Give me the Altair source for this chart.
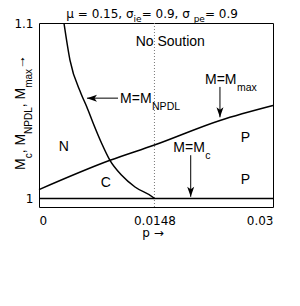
import altair as alt
import pandas as pd

# ---- data ----
p_npdl = [0.00320, 0.00397, 0.00538, 0.00612, 0.00696, 0.00804, 0.00910, 0.01060, 0.01231, 0.01465, 0.01480]
m_npdl = [1.1000, 1.0789, 1.0599, 1.0523, 1.0428, 1.0314, 1.0218, 1.0133, 1.0066, 1.0006, 1.0000]

p_max = [0.0, 0.0091, 0.0148, 0.0232, 0.0300]
m_max = [1.0051, 1.0218, 1.0305, 1.0445, 1.0530]

p_mc = [0.0, 0.03]
m_mc = [1.0, 1.0]

p_star = [0.0148]

x_ticks = [0, 0.0148, 0.03]
y_ticks = [1, 1.1]
x_domain = [0, 0.03]
y_domain = [0.9952, 1.1]

region_text = ["No Soution", "N", "C", "P", "P"]
region_p = [0.01683, 0.00318, 0.00856, 0.02645, 0.02645]
region_m = [1.0869, 1.0271, 1.0066, 1.0323, 1.0082]

ann_main = ["M=M", "M=M", "M=M"]
ann_sub = ["NPDL", "max", "c"]
ann_p = [0.01039, 0.02128, 0.01722]
ann_m = [1.0546, 1.0651, 1.0265]

# arrows: shaft start -> tip
arr_p1 = [0.01013, 0.02320, 0.01945]
arr_m1 = [1.0572, 1.0636, 1.0247]
arr_p2 = [0.00615, 0.02320, 0.01945]
arr_m2 = [1.0572, 1.0463, 1.0010]
arr_dir = ["left", "down", "down"]

title_parts = ["μ = 0.15, σ", "ie", " = 0.9, σ", "pe", " = 0.9"]
title_sub = [False, True, False, True, False]
ytitle_parts = ["M", "c", ", M", "NPDL", ", M", "max", " →"]
ytitle_sub = [False, True, False, True, False, True, False]

W, H = 234, 184

ARIAL = {' ': 278, ',': 278, '.': 278, '=': 584, 'M': 833, 'N': 722, 'P': 667, 'D': 722,
         'L': 556, 'm': 833, 'a': 556, 'x': 500, 'c': 500, '→': 1000}
DEJAVU = {' ': 318, ',': 318, '.': 318, '=': 838, 'μ': 636, 'σ': 634, 'i': 278, 'e': 615, 'p': 635}


def tw(s, size, table, default):
    return sum(table.get(ch, default) for ch in s) * size / 1000.0


xs = alt.Scale(domain=x_domain, nice=False, zero=False)
ys = alt.Scale(domain=y_domain, nice=False, zero=False)
X = lambda f: alt.X(f, type="quantitative", scale=xs, title=None,
                    axis=alt.Axis(values=x_ticks, format=".4~f", labelPadding=8))
Y = lambda f: alt.Y(f, type="quantitative", scale=ys, title=None,
                    axis=alt.Axis(values=y_ticks, format=".1~f", labelPadding=6))

layers = []

# vertical dotted line
layers.append(alt.Chart(pd.DataFrame({"p": p_star})).mark_rule(
    color="#777", strokeDash=[1, 2], strokeWidth=1).encode(x=X("p")))

# curves
for pp, mm in [(p_npdl, m_npdl), (p_max, m_max), (p_mc, m_mc)]:
    layers.append(alt.Chart(pd.DataFrame({"p": pp, "m": mm})).mark_line(
        color="black", strokeWidth=1.5, interpolate="monotone").encode(x=X("p"), y=Y("m")))

# region labels
layers.append(alt.Chart(pd.DataFrame({"t": region_text, "p": region_p, "m": region_m})).mark_text(
    font="Liberation Sans", fontSize=14, align="center", baseline="alphabetic", color="black"
).encode(x=X("p"), y=Y("m"), text="t:N"))

# annotation labels with subscripts
ann = pd.DataFrame({"t": ann_main, "s": ann_sub, "p": ann_p, "m": ann_m})
layers.append(alt.Chart(ann).mark_text(
    font="Liberation Sans", fontSize=14, align="left", baseline="alphabetic", color="black"
).encode(x=X("p"), y=Y("m"), text="t:N"))
layers.append(alt.Chart(ann).mark_text(
    font="Liberation Sans", fontSize=10.5, align="left", baseline="alphabetic", color="black",
    dx=tw("M=M", 14, ARIAL, 556) + 0.5, dy=7
).encode(x=X("p"), y=Y("m"), text="s:N"))

# arrows
arr = pd.DataFrame({"p1": arr_p1, "m1": arr_m1, "p2": arr_p2, "m2": arr_m2, "d": arr_dir})
layers.append(alt.Chart(arr).mark_rule(color="black", strokeWidth=1).encode(
    x=X("p1"), y=Y("m1"), x2="p2", y2="m2"))
heads = {"left": "M0,0 L2,-0.7 L1.5,0 L2,0.7 Z", "down": "M0,0 L-0.7,-2 L0,-1.5 L0.7,-2 Z"}
for d, path in heads.items():
    sub = arr[arr["d"] == d]
    layers.append(alt.Chart(sub).mark_point(
        shape=path, filled=True, color="black", size=100, opacity=1, strokeWidth=0
    ).encode(x=X("p2"), y=Y("m2")))

# title with subscripts (pixel positions relative to plot origin)
tot = sum(tw(s, 9 if sb else 12, DEJAVU, 636) for s, sb in zip(title_parts, title_sub))
x0 = W / 2 - 2 - tot / 2
for s, sb in zip(title_parts, title_sub):
    size = 9 if sb else 12
    layers.append(alt.Chart(pd.DataFrame({"t": [s]})).mark_text(
        font="DejaVu Sans", fontSize=size, align="left", baseline="alphabetic", color="black"
    ).encode(x=alt.value(x0), y=alt.value(-1.5 if sb else -5), text="t:N"))
    x0 += tw(s, size, DEJAVU, 636)

# y title, rotated, with subscripts
y0 = 147
for s, sb in zip(ytitle_parts, ytitle_sub):
    size = 10 if sb else 14
    layers.append(alt.Chart(pd.DataFrame({"t": [s]})).mark_text(
        font="Liberation Sans", fontSize=size, align="left", baseline="alphabetic", color="black",
        angle=270
    ).encode(x=alt.value(-7 if sb else -14), y=alt.value(y0), text="t:N"))
    y0 -= tw(s, size, ARIAL, 556)

# x title
layers.append(alt.Chart(pd.DataFrame({"t": ["p →"]})).mark_text(
    font="DejaVu Sans", fontSize=12, align="center", baseline="alphabetic", color="black"
).encode(x=alt.value(114), y=alt.value(214), text="t:N"))

chart = alt.layer(*layers).properties(
    width=W, height=H, autosize="none",
    padding={"left": 31, "top": 15, "right": 10, "bottom": 60},
).configure_view(stroke="black", strokeWidth=1).configure_axis(
    domain=False, ticks=False, tickSize=0, grid=False, labelFont="DejaVu Sans",
    labelFontSize=12, labelColor="black"
)

chart.save("out.html", embed_options={"renderer": "svg", "actions": False})
